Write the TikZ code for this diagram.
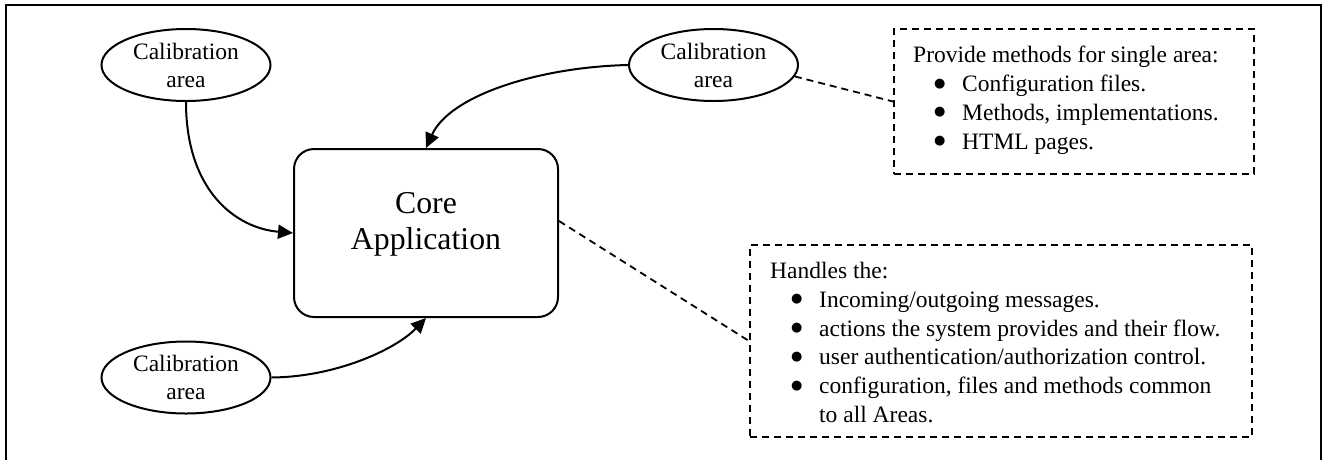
\documentclass[tikz,border=0pt]{standalone}
\usepackage{fontspec}
\setmainfont{Liberation Serif}
\newfontfamily\dejavufont{DejaVu Sans}
\usetikzlibrary{shapes.geometric,arrows.meta}
\tikzset{
  area/.style={ellipse, draw, line width=2pt, minimum width=169pt, minimum height=72pt, inner sep=0pt, align=center, font=\fontsize{23.5}{28}\selectfont},
  corebox/.style={rectangle, draw, rounded corners=20pt, line width=2pt, minimum width=264pt, minimum height=168pt, inner sep=0pt, align=center, font=\fontsize{31.8}{36}\selectfont},
  notebox/.style={rectangle, draw, dash pattern=on 7pt off 5pt, line width=2pt, inner sep=0pt},
  notetext/.style={anchor=north west, inner sep=0pt, align=left, font=\fontsize{23.5}{28.8}\selectfont},
  conn/.style={line width=2pt, -{Triangle[length=15pt,width=14pt]}},
  noteline/.style={line width=1.8pt, dash pattern=on 7pt off 5pt},
}
\newcommand{\bul}{\hspace*{21pt}\makebox[28pt][l]{\raisebox{4.5pt}{\dejavufont\fontsize{13}{13}\selectfont ●}}}
\begin{document}
\begin{tikzpicture}[x=1pt,y=-1pt]
\useasboundingbox (0,0) rectangle (1327,459);
\draw[line width=2.2pt] (6,460) -- (6,5) -- (1321,5) -- (1321,460);

\node[area] (cal1) at (186,65) {Calibration\\area};
\node[area] (cal2) at (713.5,65) {Calibration\\area};
\node[area] (cal3) at (186,377.5) {Calibration\\area};

\node[corebox] (core) at (426,233) {Core\\Application\rule[-25pt]{0pt}{0pt}};

\node[notebox, minimum width=360pt, minimum height=145pt] (note1) at (1074,101.5) {};
\node[notetext] (t1) at (913,46) {Provide methods for single area:\\
\bul Configuration files.\\
\bul Methods, implementations.\\
\bul HTML pages.};

\node[notebox, minimum width=502pt, minimum height=192pt] (note2) at (1001,341) {};
\node[notetext] (t2) at (770,262) {Handles the:\\
\bul Incoming/outgoing messages.\\
\bul actions the system provides and their flow.\\
\bul user authentication/authorization control.\\
\bul configuration, files and methods common\\
\hspace*{49pt}to all Areas.};

\draw[conn] (cal1.south) .. controls (186,190) and (235,228) .. (core.west);
\draw[conn] (cal3.east) .. controls (335,377) and (395,350) .. (core.south);
\draw[conn] (cal2.west) .. controls (540,67) and (450,95) .. (core.north);

\draw[noteline] (cal2.-8) -- (note1.west);
\draw[noteline] ([yshift=12pt]core.east) -- (note2.west);
\end{tikzpicture}
\end{document}
